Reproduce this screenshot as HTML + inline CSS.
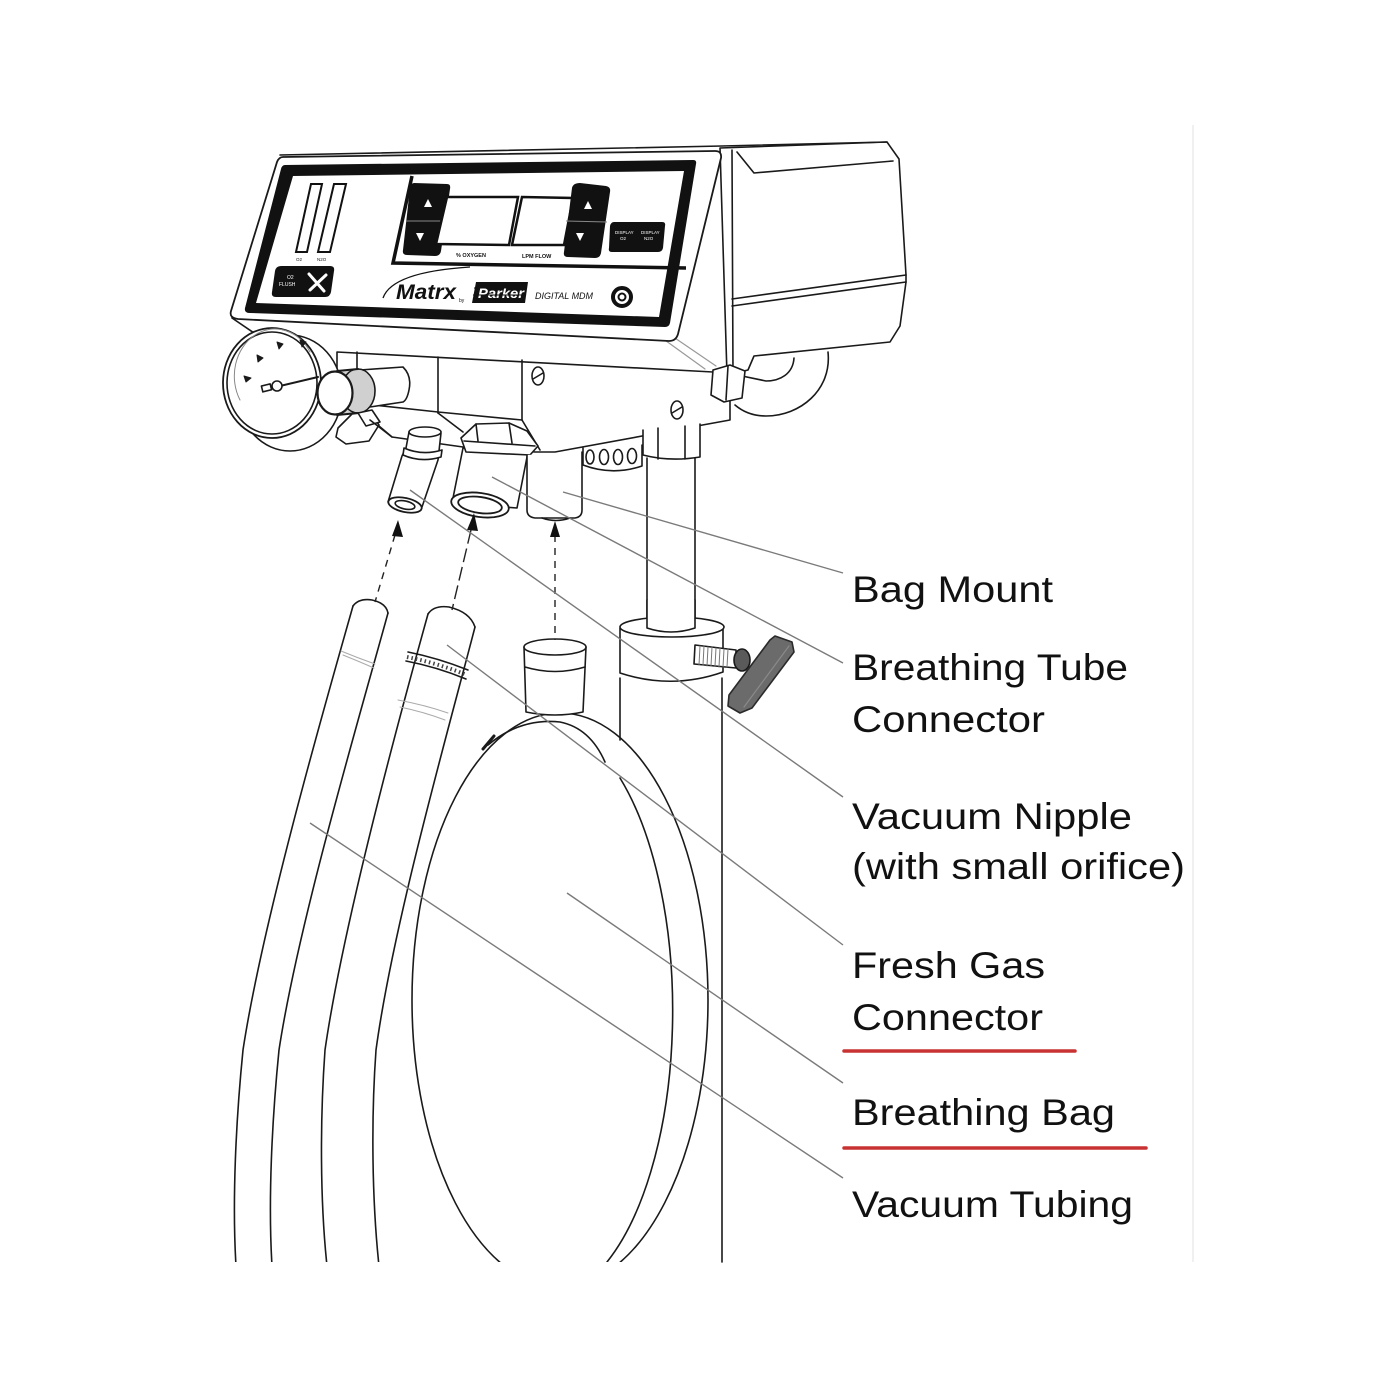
<!DOCTYPE html>
<html><head><meta charset="utf-8"><style>
html,body{margin:0;padding:0;background:#fff;}
svg{display:block;}
text{font-family:"Liberation Sans",Arial,sans-serif;}
</style></head><body>
<svg width="1400" height="1400" viewBox="0 0 1400 1400" xmlns="http://www.w3.org/2000/svg">
<defs>
<clipPath id="cb"><rect x="0" y="0" width="1400" height="1262"/></clipPath>
</defs>
<rect width="1400" height="1400" fill="#fff"/>
<line x1="1193" y1="125" x2="1193" y2="1262" stroke="#ececec" stroke-width="1.5"/>

<g fill="none" stroke="#1a1a1a" stroke-width="1.6" stroke-linejoin="round" stroke-linecap="round">
<!-- right box -->
<path d="M720,148 L887,142 L899,159 L906,275 L906,282 L900,326 L890,342 L754,356 L748,370 L727,375 Z" fill="#fff"/>
<path d="M737,152 L754,173 L893,161"/>
<path d="M732,299 L906,275 M732,306 L906,282"/>
<path d="M732,150 L733,376"/>
<!-- clamp under right box -->
<path d="M828,352 C832,390 800,416 766,416 C752,416 742,411 735,405"/>
<path d="M794,358 C793,374 780,381 766,381 L742,376"/>

<!-- housing underside lines -->
<path d="M232,318 L257,335"/>
<path d="M662,338 L705,369" stroke="#999" stroke-width="1.2"/>
<path d="M672,336 L716,366" stroke="#999" stroke-width="1.2"/>

<!-- mounting block -->
<path d="M337,352 L713,372 L730,371 L730,420 L555,452 L535,452 L463,447 L392,437 L372,420 L337,400 Z" fill="#fff"/>
<path d="M357,352 L357,372 M438,357 L438,413 M522,360 L522,420"/>
<path d="M373,405 L438,412 L522,420"/>
<path d="M438,413 L463,432 M522,420 L540,450"/>
<ellipse cx="538" cy="376" rx="6" ry="9"/>
<path d="M533,379 L543,373"/>
<ellipse cx="677" cy="410" rx="6" ry="9"/>
<path d="M672,413 L682,407"/>
<!-- sleeve -->
<path d="M713,370 L730,365 L745,371 L742,398 L724,402 L711,395 Z" fill="#fff"/>
<path d="M728,366 L726,400"/>

<!-- front face -->
<path d="M283,157 L715,151 Q722,151 721,158 L678,334 Q676,341 669,341 L238,319 Q229,318 231,311 L277,162 Q279,157 283,157 Z" fill="#fff" stroke-width="1.8"/>
<path d="M280,155 L722,146 L887,142"/>
</g>

<!-- bezel -->
<path fill="#111" fill-rule="evenodd" d="M285,165 L693,160 Q697,160 696,164 L670,323 Q669,327 665,327 L250,313 Q244,313 245,308 L281,169 Q282,165 285,165 Z M293,176 L684,171 L659,317 L256,303 Z"/>
<path d="M412,176 L393,263 L686,268" fill="none" stroke="#111" stroke-width="3.5"/>

<!-- left buttons -->
<path fill="#111" d="M414,183 L447,184 Q451,184 450,189 L441,251 Q440,256 435,256 L407,255 Q402,255 403,250 L410,188 Q411,183 414,183 Z"/>
<path d="M406,221 L446,221" stroke="#888" stroke-width="1"/>
<polygon points="424,207 432,207 428,199" fill="#fff"/>
<polygon points="416,233 424,233 420,241" fill="#fff"/>
<!-- displays -->
<polygon points="447,197 518,197 509,245 436,244" fill="#fff" stroke="#111" stroke-width="2.5"/>
<polygon points="522,197 573,198 564,245 512,245" fill="#fff" stroke="#111" stroke-width="2.5"/>
<!-- right buttons -->
<path fill="#111" d="M580,183 L606,186 Q611,187 610,192 L601,253 Q600,258 595,258 L568,257 Q563,257 564,252 L572,188 Q573,183 580,183 Z"/>
<path d="M566,221 L607,222" stroke="#888" stroke-width="1"/>
<polygon points="584,209 592,209 588,201" fill="#fff"/>
<polygon points="576,233 584,233 580,241" fill="#fff"/>
<!-- display button -->
<path fill="#111" d="M614,222 L662,222 Q666,222 665,226 L663,248 Q662,252 658,252 L612,252 Q608,252 609,248 L610,226 Q611,222 614,222 Z"/>
<text x="615" y="234" font-size="4.5" fill="#fff">DISPLAY</text>
<text x="620" y="240" font-size="4.5" fill="#fff">O2</text>
<text x="641" y="234" font-size="4.5" fill="#fff">DISPLAY</text>
<text x="644" y="240" font-size="4.5" fill="#fff">N2O</text>
<text x="456" y="257" font-size="5.5" fill="#111" font-weight="bold">% OXYGEN</text>
<text x="522" y="258" font-size="5.5" fill="#111" font-weight="bold">LPM FLOW</text>

<!-- flowmeter tubes -->
<polygon points="311,184 322,184 307,252 296,252" fill="#fff" stroke="#111" stroke-width="2"/>
<polygon points="334,184 346,184 330,252 318,252" fill="#fff" stroke="#111" stroke-width="2"/>
<text x="296" y="261" font-size="4.5" fill="#111">O2</text>
<text x="317" y="261" font-size="4.5" fill="#111">N2O</text>
<!-- flush -->
<path fill="#111" d="M281,266 L330,266 Q335,266 334,271 L331,292 Q330,297 325,297 L276,297 Q271,297 272,292 L275,271 Q276,266 281,266 Z"/>
<text x="287" y="279" font-size="5" fill="#fff">O2</text>
<text x="279" y="286" font-size="5" fill="#fff">FLUSH</text>
<path d="M309,274 L324,291 M326,275 L310,290" stroke="#fff" stroke-width="3" stroke-linecap="round"/>

<!-- logo -->
<path d="M383,298 Q392,272 470,267" fill="none" stroke="#111" stroke-width="1.3"/>
<text x="396" y="299" font-size="21" font-weight="bold" font-style="italic" fill="#111" textLength="60" lengthAdjust="spacingAndGlyphs">Matrx</text>
<text x="459" y="302" font-size="5" fill="#111">by</text>
<polygon points="476,282 528,282 525,303 472,303" fill="#111"/>
<text x="478" y="298" font-size="14" font-weight="bold" font-style="italic" fill="#fff" textLength="46" lengthAdjust="spacingAndGlyphs">Parker</text>
<path d="M474,288 L527,288 M473,295 L526,295" stroke="#111" stroke-width="1"/>
<text x="535" y="299" font-size="9" font-style="italic" fill="#111" textLength="58" lengthAdjust="spacingAndGlyphs">DIGITAL MDM</text>
<circle cx="622" cy="297" r="9" fill="#fff" stroke="#111" stroke-width="4"/>
<circle cx="622" cy="297" r="3.5" fill="none" stroke="#111" stroke-width="2"/>

<g fill="none" stroke="#1a1a1a" stroke-width="1.6" stroke-linejoin="round" stroke-linecap="round">
<!-- gauge -->
<ellipse cx="290" cy="393" rx="52" ry="58" fill="#fff"/>
<ellipse cx="272" cy="383" rx="49" ry="55" fill="#fff" stroke-width="1.8"/>
<ellipse cx="272" cy="383" rx="45" ry="51"/>
<path d="M240,400 A38,44 0 0 1 310,352" stroke="#888" stroke-width="1"/>
<polygon points="244,376 251,378 246,382" fill="#1a1a1a" stroke-width="1"/>
<polygon points="257,355 263,358 258,362" fill="#1a1a1a" stroke-width="1"/>
<polygon points="277,342 283,344 279,349" fill="#1a1a1a" stroke-width="1"/>
<polygon points="300,340 306,342 302,347" fill="#1a1a1a" stroke-width="1"/>
<path d="M263,390 L318,377" stroke-width="2"/>
<rect x="262" y="385" width="9" height="6" fill="#fff" transform="rotate(-14 266 388)"/>
<circle cx="277" cy="386" r="5" fill="#fff"/>

<!-- knob tube -->
<path d="M360,370 L403,367 Q412,376 409,390 Q407,400 403,402 L370,407 Z" fill="#fff"/>
<path d="M337,372 L358,369 L358,413 L337,415 Z" fill="#d0d0d0" stroke="none"/>
<ellipse cx="358" cy="391" rx="17" ry="22" fill="#d0d0d0"/>
<path d="M337,371 L358,369 M337,415 L358,413" stroke-width="2"/>
<ellipse cx="335" cy="393" rx="17.5" ry="21.5" fill="#fff" stroke-width="2.2"/>
<!-- bracket -->
<path d="M338,428 L352,414 L370,412 L379,425 L369,441 L346,444 L336,437 Z" fill="#fff"/>
<path d="M358,413 L372,410 L380,422 L366,426 Z" fill="#fff"/>
<path d="M370,420 L392,437"/>

<!-- vacuum nipple -->
<path d="M409,432 L441,433 L438,460 L422,507 L388,502 L402,456 L406,448 Z" fill="#fff"/>
<ellipse cx="425" cy="432" rx="16" ry="5" fill="#fff"/>
<path d="M404,448 Q422,456 442,450 L441,457 Q421,463 403,455 Z" fill="#fff"/>
<ellipse cx="405" cy="505" rx="17" ry="7" transform="rotate(12 405 505)" fill="#fff" stroke-width="1.8"/>
<ellipse cx="405" cy="505" rx="10" ry="4" transform="rotate(12 405 505)"/>

<!-- breathing tube connector -->
<path d="M463,448 L528,452 L517,508 L452,503 Z" fill="#fff"/>
<path d="M461,438 L476,424 L509,423 L527,431 L538,446 L530,455 L466,452 Z" fill="#fff"/>
<path d="M464,441 L535,446 M476,424 L478,441 M509,423 L512,443"/>
<ellipse cx="480" cy="505" rx="29" ry="12" transform="rotate(8 480 505)" fill="#fff" stroke-width="1.8"/>
<ellipse cx="480" cy="505" rx="22" ry="8" transform="rotate(8 480 505)" stroke-width="1.8"/>

<!-- bag mount -->
<path d="M527,455 L527,510 Q527,517 535,518 L575,518 Q582,517 582,510 L582,452" fill="#fff"/>
<path d="M542,518 Q556,523 570,518"/>
<!-- ring with ovals -->
<path d="M583,448 L583,465 Q612,476 642,466 L642,445" fill="#fff"/>
<ellipse cx="590" cy="457" rx="4" ry="7"/>
<ellipse cx="604" cy="457" rx="4.5" ry="7.5"/>
<ellipse cx="618" cy="457" rx="4.5" ry="7.5"/>
<ellipse cx="632" cy="456" rx="4.5" ry="7.5"/>
<!-- pole top -->
<path d="M643,430 L643,455 Q670,462 700,457 L700,424" fill="#fff"/>
<path d="M658,428 L658,459 M685,426 L685,459"/>
<path d="M647,458 L647,626 M695,458 L695,626"/>
<!-- collar -->
<path d="M620,628 L620,673 Q672,690 723,672 L723,628" fill="#fff"/>
<ellipse cx="672" cy="627" rx="52" ry="10" fill="#fff"/>
<path d="M647,600 L647,628 Q671,636 695,628 L695,600" fill="#fff"/>
<path d="M620,678 L620,740 M722,678 L722,1262"/>
<!-- thumb screw -->
<path d="M695,645 L736,650 L736,668 L694,664 Z" fill="#fff"/>
<path d="M700,646 L699,665 M704,646 L703,665 M708,647 L707,666 M712,647 L711,666 M716,648 L715,666 M720,648 L719,667 M724,649 L723,667 M728,649 L727,667" stroke-width="1" stroke="#777"/>
<ellipse cx="742" cy="660" rx="8" ry="11" fill="#5a5a5a"/>
<path d="M775,636 L792,642 L794,652 L752,708 L740,713 L728,706 L729,695 L770,640 Z" fill="#6b6b6b" stroke="#2a2a2a" stroke-width="1.6"/>
<path d="M789,646 L744,707" stroke="#8a8a8a" stroke-width="1.2"/>

<!-- bag -->
<g clip-path="url(#cb)">
<ellipse cx="560" cy="1000" rx="148" ry="287" fill="none"/>
<path d="M620,778 A127,287 0 0 1 607,1262"/>
</g>
<path d="M488,745 Q520,718 560,722 Q590,728 605,762"/>
<path d="M483,749 L494,736" stroke-width="3"/>
<!-- bag neck -->
<path d="M524,647 L526,712 Q555,718 583,712 L586,647 Z" fill="#fff"/>
<ellipse cx="555" cy="647" rx="31" ry="8" fill="#fff"/>
<path d="M525,667 Q555,676 585,667"/>

<!-- tubes -->
<g clip-path="url(#cb)">
<path d="M353,606 C322,715 262,925 243,1050 C236,1120 232,1200 236,1266"/>
<path d="M388,613 C358,722 298,925 279,1050 C272,1120 268,1200 272,1266"/>
<path d="M428,614 C398,722 343,925 325,1050 C320,1120 320,1200 327,1266"/>
<path d="M475,627 C447,735 393,925 376,1050 C371,1120 372,1200 379,1266"/>
</g>
<path d="M353,606 Q359,598 372,600 Q386,603 388,613"/>
<path d="M428,614 Q434,605 449,607 Q470,612 475,627"/>
<path d="M341,651 Q358,658 375,664" stroke="#aaa" stroke-width="1"/>
<path d="M343,655 Q358,661 374,668" stroke="#aaa" stroke-width="1"/>
<path d="M408,652 Q438,658 468,670"/>
<path d="M406,661 Q437,667 466,679"/>
<path d="M407,657 Q437,663 467,675" stroke="#444" stroke-width="4" stroke-dasharray="1.5,3" stroke-linecap="butt"/>
<path d="M398,700 Q425,705 448,713" stroke="#aaa" stroke-width="1"/>
<path d="M400,707 Q424,712 445,720" stroke="#aaa" stroke-width="1"/>
</g>

<!-- dashed arrows -->
<g stroke="#222" stroke-width="1.4" fill="none">
<path d="M395,535 L375,602" stroke-dasharray="7,6"/>
<path d="M471,530 L452,610" stroke-dasharray="14,5"/>
<path d="M555,535 L555,640" stroke-dasharray="7,6"/>
</g>
<polygon points="398,520 392,536 403,537" fill="#111"/>
<polygon points="474,513 467,530 478,531" fill="#111"/>
<polygon points="555,521 550,537 560,537" fill="#111"/>

<!-- leader lines -->
<g stroke="#7a7a7a" stroke-width="1.4" fill="none">
<line x1="563" y1="492" x2="843" y2="573"/>
<line x1="492" y1="477" x2="843" y2="663"/>
<line x1="410" y1="490" x2="843" y2="797"/>
<line x1="447" y1="645" x2="843" y2="945"/>
<line x1="567" y1="893" x2="843" y2="1083"/>
<line x1="310" y1="823" x2="843" y2="1178"/>
</g>

<!-- labels -->
<g fill="#111" font-size="37">
<text x="852" y="602" textLength="201" lengthAdjust="spacingAndGlyphs">Bag Mount</text>
<text x="852" y="680" textLength="276" lengthAdjust="spacingAndGlyphs">Breathing Tube</text>
<text x="852" y="732" textLength="193" lengthAdjust="spacingAndGlyphs">Connector</text>
<text x="852" y="829" textLength="280" lengthAdjust="spacingAndGlyphs">Vacuum Nipple</text>
<text x="852" y="879" textLength="333" lengthAdjust="spacingAndGlyphs">(with small orifice)</text>
<text x="852" y="978" textLength="193" lengthAdjust="spacingAndGlyphs">Fresh Gas</text>
<text x="852" y="1030" textLength="191" lengthAdjust="spacingAndGlyphs">Connector</text>
<text x="852" y="1125" textLength="263" lengthAdjust="spacingAndGlyphs">Breathing Bag</text>
<text x="852" y="1217" textLength="281" lengthAdjust="spacingAndGlyphs">Vacuum Tubing</text>
</g>
<line x1="844" y1="1051" x2="1075" y2="1051" stroke="#c83232" stroke-width="3.5" stroke-linecap="round"/>
<line x1="844" y1="1148" x2="1146" y2="1148" stroke="#c83232" stroke-width="3.5" stroke-linecap="round"/>
</svg>
</body></html>
